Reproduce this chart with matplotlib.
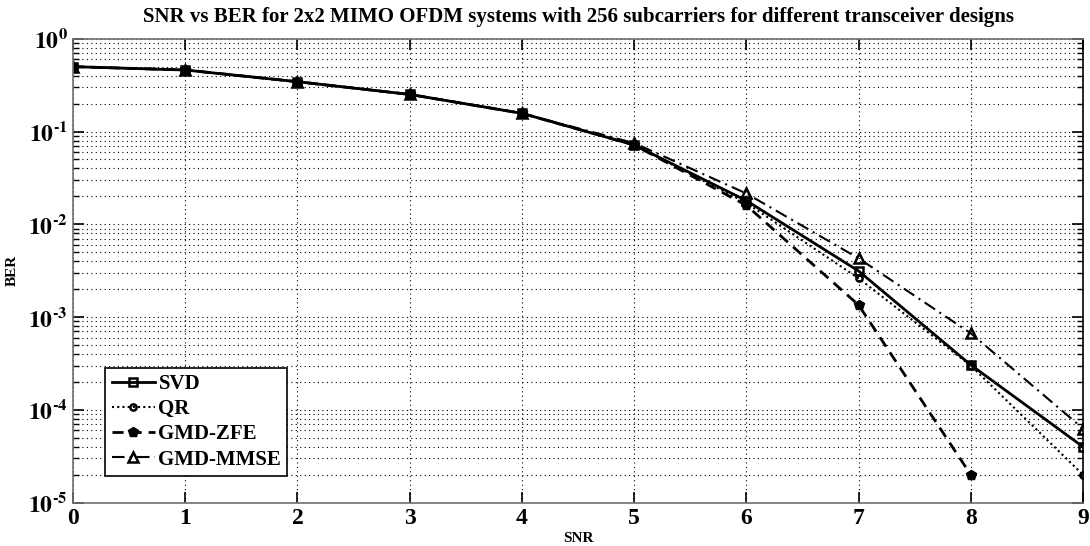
import math
import matplotlib
matplotlib.use("Agg")
import matplotlib.pyplot as plt
from matplotlib.ticker import LogLocator, FixedLocator, FuncFormatter, NullFormatter

snr = [0, 1, 2, 3, 4, 5, 6, 7, 8, 9]
ber_svd = [0.50, 0.46, 0.344, 0.251, 0.157, 0.0716, 0.018, 0.00314, 0.000305, 4.0e-5]
ber_qr = [0.50, 0.46, 0.344, 0.251, 0.157, 0.0716, 0.017, 0.00262, 0.00030, 2.0e-5]
snr_zfe = [0, 1, 2, 3, 4, 5, 6, 7, 8]
ber_zfe = [0.50, 0.46, 0.344, 0.251, 0.157, 0.0716, 0.016, 0.00135, 2.0e-5]
ber_mmse = [0.50, 0.46, 0.344, 0.251, 0.157, 0.075, 0.0215, 0.0043, 0.000669, 6.3e-5]
labels = ["SVD", "QR", "GMD-ZFE", "GMD-MMSE"]

plt.rcParams["font.family"] = ["Liberation Serif", "DejaVu Serif"]
plt.rcParams["mathtext.fontset"] = "stix"

fig = plt.figure(figsize=(10.9, 5.46), dpi=100)
ax = fig.add_axes([0.067, 0.0793, 0.9266, 0.8498])

ax.plot(snr, ber_svd, color="black", lw=2, ls="-", marker="s", ms=6,
        mfc="none", mec="black", mew=1.8, label=labels[0])
ax.plot(snr, ber_qr, color="black", lw=1.5, ls=(0, (1, 1.5)), marker="o", ms=4.5,
        mfc="none", mec="black", mew=1.8, label=labels[1])
ax.plot(snr_zfe, ber_zfe, color="black", lw=2, ls=(0, (4, 2.5)), marker="p", ms=7,
        mfc="black", mec="black", label=labels[2])
ax.plot(snr, ber_mmse, color="black", lw=1.5, ls=(0, (6, 2.5, 1, 2.5)), marker="^", ms=7,
        mfc="none", mec="black", mew=1.8, label=labels[3])

ax.set_yscale("log")
ax.set_ylim(1e-5, 1)
ax.set_xlim(0, 9)
ax.xaxis.set_major_locator(FixedLocator(snr))
ax.yaxis.set_major_locator(LogLocator(base=10, numticks=10))
ax.yaxis.set_minor_locator(LogLocator(base=10, subs=range(2, 10), numticks=20))
ax.yaxis.set_minor_formatter(NullFormatter())

def yfmt(v, pos):
    e = int(round(math.log10(v)))
    return r"$\mathbf{10^{\mathbf{%s}}}$" % (str(e) if e >= 0 else "\u2010" + str(-e))
ax.yaxis.set_major_formatter(FuncFormatter(yfmt))

ax.grid(True, which="major", ls=(0, (1, 3)), color="black", lw=0.8)
ax.grid(True, which="minor", axis="y", ls=(0, (1, 3)), color="black", lw=0.8)

ax.tick_params(which="both", direction="in", top=True, right=True)
ax.tick_params(which="major", length=8, width=1.2, labelsize=17, pad=4)
ax.tick_params(which="minor", length=4, width=1.0)
for lab in ax.get_xticklabels():
    lab.set_fontweight("bold")
for sp in ax.spines.values():
    sp.set_color("#707070")
    sp.set_linewidth(1.2)
ax.spines["right"].set_color("black")

ax.set_xlabel("SNR", fontsize=11, fontweight="bold", labelpad=2)
ax.set_ylabel("BER", fontsize=11, fontweight="bold")
ax.yaxis.set_label_coords(-0.054, 0.5)
ax.set_title("SNR vs BER for 2x2 MIMO OFDM systems with 256 subcarriers for different transceiver designs",
             fontsize=15, fontweight="bold", pad=12)

leg = ax.legend(loc="lower left", bbox_to_anchor=(0.032, 0.058), fancybox=False,
                framealpha=1, edgecolor="black", prop={"size": 15, "weight": "bold"},
                handlelength=2.1, handletextpad=0.15, labelspacing=0.25, borderpad=0.3,
                borderaxespad=0)
leg.get_frame().set_linewidth(1.2)

fig.savefig("out.png", dpi=100)
